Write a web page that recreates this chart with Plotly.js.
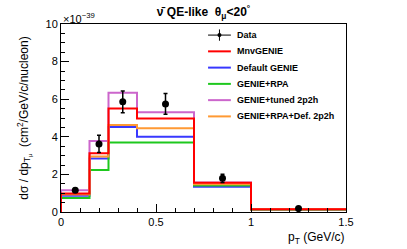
<!DOCTYPE html>
<html><head><meta charset="utf-8">
<script src="https://cdn.plot.ly/plotly-3.0.1.min.js"></script>
<style>html,body{margin:0;padding:0;background:#fff;}#chart{width:407px;height:249px;}</style>
</head><body><div id="chart"></div>
<script>
// Bin edges of pT (GeV/c)
const binEdges = [0, 0.15, 0.25, 0.4, 0.7, 1.0, 1.5];
// Data points (x1e-39)
const dataX = [0.075, 0.2, 0.325, 0.55, 0.85, 1.25];
const dataY = [1.16, 3.62, 5.86, 5.75, 1.79, 0.18];
const dataErr = [0.10, 0.46, 0.58, 0.55, 0.22, 0.04];
// Model predictions per bin
const defaultGenie = [0.86, 2.84, 4.52, 4.00, 1.34, 0.13];
const genieRPA = [0.75, 2.23, 3.70, 3.70, 1.41, 0.12];
const genieTuned2p2h = [1.16, 3.77, 6.34, 5.30, 1.57, 0.15];
const genieRPADef2p2h = [0.93, 2.95, 4.63, 4.46, 1.48, 0.14];
const mnvGenie = [0.98, 3.13, 5.50, 4.98, 1.55, 0.14];
const seriesNames = ["Default GENIE", "GENIE+RPA", "GENIE+tuned 2p2h", "GENIE+RPA+Def. 2p2h", "MnvGENIE"];
const legendOrder = ["Data", "MnvGENIE", "Default GENIE", "GENIE+RPA", "GENIE+tuned 2p2h", "GENIE+RPA+Def. 2p2h"];
const xTickVals = [0, 0.5, 1, 1.5];
const xTickText = ["0", "0.5", "1", "1.5"];
const yTickVals = [0, 2, 4, 6, 8, 10];

const seriesValues = [defaultGenie, genieRPA, genieTuned2p2h, genieRPADef2p2h, mnvGenie];
const colors = {
  "Default GENIE": "#3838ff",
  "GENIE+RPA": "#1ec81e",
  "GENIE+tuned 2p2h": "#cc66cc",
  "GENIE+RPA+Def. 2p2h": "#ff9933",
  "MnvGENIE": "#ff0000"
};

function stepTrace(name, vals) {
  const xs = [binEdges[0]];
  const ys = [0];
  for (let i = 0; i < vals.length; i++) { xs.push(binEdges[i]); ys.push(vals[i]); }
  xs.push(binEdges[binEdges.length - 1]); ys.push(vals[vals.length - 1]);
  return {x: xs, y: ys, type: 'scatter', mode: 'lines', name: name,
    line: {shape: 'hv', color: colors[name], width: 2}, showlegend: false, hoverinfo: 'skip'};
}

const traces = seriesNames.map((n, i) => stepTrace(n, seriesValues[i]));
traces.push({x: dataX, y: dataY, type: 'scatter', mode: 'markers', name: 'Data',
  marker: {color: 'black', size: 7},
  error_y: {type: 'data', array: dataErr, visible: true, color: 'black', thickness: 1.5, width: 2},
  showlegend: false});

// Manual ROOT-style legend
const shapes = [];
const annotations = [];
const legX0 = 0.516, legX1 = 0.596, legTX = 0.612, legY0 = 0.941, legDY = 0.0865;
legendOrder.forEach((n, i) => {
  const y = legY0 - i * legDY;
  const col = n === 'Data' ? 'black' : colors[n];
  shapes.push({type: 'line', xref: 'paper', yref: 'paper', x0: legX0, x1: legX1, y0: y, y1: y,
    line: {color: col, width: n === 'Data' ? 1 : 2}});
  if (n === 'Data') {
    const xm = (legX0 + legX1) / 2;
    shapes.push({type: 'line', xref: 'paper', yref: 'paper', x0: xm, x1: xm, y0: y - 0.03, y1: y + 0.03,
      line: {color: 'black', width: 1}});
    shapes.push({type: 'circle', xref: 'paper', yref: 'paper', x0: xm - 0.007, x1: xm + 0.007, y0: y - 0.011, y1: y + 0.011,
      fillcolor: 'black', line: {color: 'black', width: 0}});
  }
  annotations.push({xref: 'paper', yref: 'paper', x: legTX, y: y, xanchor: 'left', yanchor: 'middle',
    text: n, showarrow: false, font: {family: 'Liberation Sans, Arial', size: 9, color: 'black', weight: 'bold'}});
});
annotations.push({xref: 'paper', yref: 'paper', x: 0, y: 1, xanchor: 'left', yanchor: 'bottom', yshift: -3,
  text: '×10<sup>−39</sup>', showarrow: false, font: {family: 'Liberation Sans, Arial', size: 11, color: 'black'}});
annotations.push({xref: 'paper', yref: 'paper', x: 1, y: -0.14, xanchor: 'right', yanchor: 'middle',
  text: 'p<sub>T</sub> (GeV/c)', showarrow: false, font: {family: 'Liberation Sans, Arial', size: 12, color: 'black'}});

const layout = {
  width: 407, height: 249,
  margin: {l: 61, r: 61, t: 24, b: 37},
  paper_bgcolor: 'white', plot_bgcolor: 'white',
  showlegend: false,
  title: {text: '<b>ν̄ QE-like  θ<sub>μ</sub><20<sup>°</sup></b>', x: 0.5, xanchor: 'center', y: 0.952, yanchor: 'middle',
    font: {family: 'Liberation Sans, Arial', size: 12, color: 'black'}},
  xaxis: {range: [0, 1.5], tickvals: xTickVals, ticktext: xTickText, ticks: 'inside', ticklen: 8, tickcolor: 'black',
    showline: true, linecolor: 'black', linewidth: 1, mirror: true, showgrid: false, zeroline: false,
    minor: {dtick: 0.1, ticks: 'inside', ticklen: 4, tickcolor: 'black', showgrid: false},
    tickfont: {family: 'Liberation Sans, Arial', size: 11, color: 'black'}},
  yaxis: {range: [0, 10], tickvals: yTickVals, ticks: 'inside', ticklen: 8, tickcolor: 'black',
    showline: true, linecolor: 'black', linewidth: 1, mirror: true, showgrid: false, zeroline: false,
    minor: {dtick: 0.5, ticks: 'inside', ticklen: 4, tickcolor: 'black', showgrid: false},
    tickfont: {family: 'Liberation Sans, Arial', size: 11, color: 'black'},
    title: {text: 'dσ / dp<sub>T<sub>μ</sub></sub>  (cm<sup>2</sup>/GeV/c/nucleon)', standoff: 14,
      font: {family: 'Liberation Sans, Arial', size: 12, color: 'black'}}},
  shapes: shapes,
  annotations: annotations
};

Plotly.newPlot('chart', traces, layout, {staticPlot: true, displayModeBar: false});
</script></body></html>
